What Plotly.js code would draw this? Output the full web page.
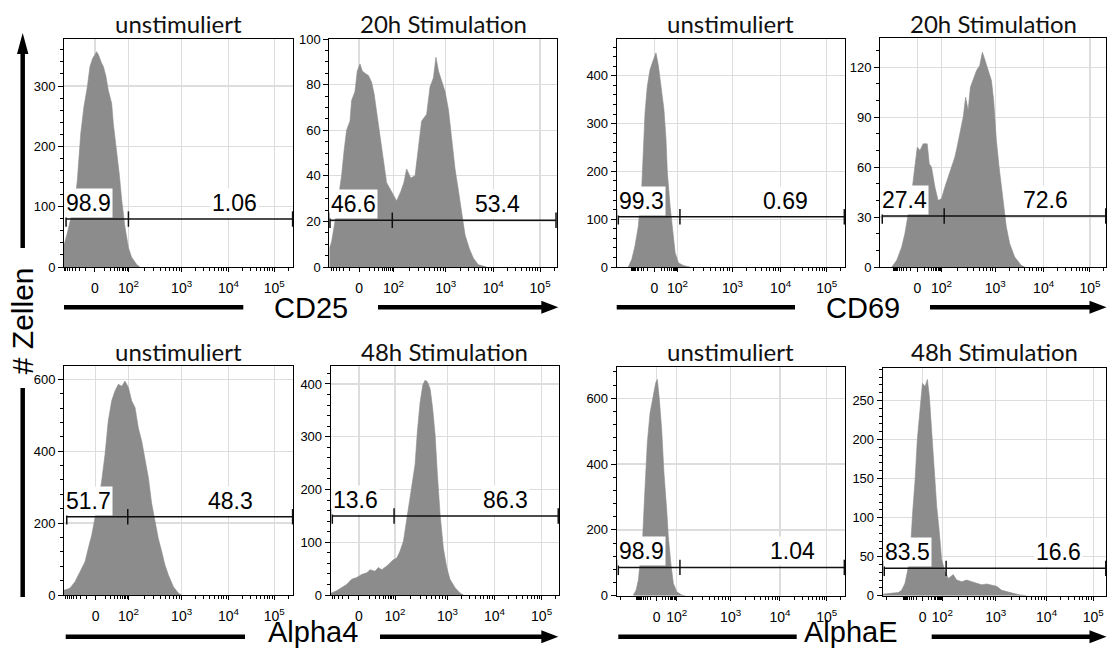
<!DOCTYPE html>
<html><head><meta charset="utf-8">
<script src="https://cdn.plot.ly/plotly-3.0.1.min.js"></script>
<style>html,body{margin:0;padding:0;background:#fff}#chart{width:1107px;height:651px}</style>
</head><body><div id="chart"></div>
<script>
// ---------- DATA (x = display channel on the biexponential scale, 0-1000; y = # cells) ----------
const decadeLabels = ['0', '10<sup>2</sup>', '10<sup>3</sup>', '10<sup>4</sup>', '10<sup>5</sup>'];
const panelTitles = ['unstimuliert', '20h Stimulation', 'unstimuliert', '20h Stimulation',
                     'unstimuliert', '48h Stimulation', 'unstimuliert', '48h Stimulation'];
const markerNames = ['CD25', 'CD69', 'Alpha4', 'AlphaE'];
const yAxisTitle = '# Zellen';

const cd25UnstimChannel = [0,1.5,17,33,48,58,65,73,87,102,113,125,135,142,150,157,164,172,183,193,208,215,230,241,252,266,281,295,317,331];
const cd25UnstimCount   = [38,38,60,88,110,143,177,221,266,299,332,346,352,357,352,343,338,332,316,293,271,238,193,154,110,66,32,16,4,0];

const cd25StimChannel = [0,3,10,25,40,54,65,76,91,98,113,123,135,145,157,172,186,197,211,223,238,252,274,296,314,328,340,358,377,392,406,428,443,458,469,480,494,509,524,538,553,567,582,597,616,633,655,692];
const cd25StimCount   = [8,9,11,20,31,40,51,60,64,73,77,86,89,86,85,84,81,76,66,57,47,37,33,29,33,37,43,39,40,54,64,67,79,83,92,86,82,77,69,57,43,34,24,14,8,4,1,0];

const cd69UnstimChannel = [51,66,80,95,102,110,117,120,124,134,146,161,172,183,197,207,216,222,234,245,256,270,292,321];
const cd69UnstimCount   = [0,16,44,86,127,169,246,280,322,378,413,434,448,420,371,329,267,197,127,72,30,9,3,0];

const cd69StimChannel = [52,74,96,110,125,140,154,165,177,191,209,218,228,243,257,272,287,302,316,331,341,353,368,379,390,400,412,427,441,453,463,478,493,503,515,527,544,559,574,596,625,640];
const cd69StimCount   = [0,4,12,20,32,44,60,72,70,74,74,62,60,48,40,41,48,54,60,66,72,80,90,102,94,108,112,118,121,129,125,118,112,100,76,60,40,24,14,6,1,0];

const alpha4UnstimChannel = [0,4,26,48,70,92,106,121,135,150,164,179,193,208,222,237,252,266,281,295,310,324,339,353,368,382,397,411,426,440,455,477,499,513];
const alpha4UnstimCount   = [14,14,19,37,65,93,130,167,214,260,316,391,484,540,567,586,581,595,577,540,521,465,428,381,326,256,205,158,121,84,56,23,5,0];

const alpha4StimChannel = [0,4,26,48,70,92,114,136,158,173,194,209,224,246,260,275,290,304,319,333,348,360,370,380,392,404,414,424,436,447,458,468,480,494,509,523,545,567,582];
const alpha4StimCount   = [4,4,8,14,20,30,33,39,42,48,45,52,48,55,61,67,70,83,102,140,184,221,247,309,365,398,407,404,391,354,303,228,152,89,52,30,14,4,0];

const alphaEUnstimChannel = [73,85,95,105,114,120,126,134,146,161,171,178,187,197,207,219,226,237,248,263,285,299];
const alphaEUnstimCount   = [2,17,48,109,180,271,362,464,555,616,647,657,596,505,373,261,180,99,38,12,2,0];

const alphaEStimChannel = [0,3,33,70,85,100,115,125,134,145,155,167,178,190,200,209,219,230,242,254,264,279,294,316,331,354,376,399,421,443,466,488,510,533,555,585,615,645];
const alphaEStimCount   = [2,2,3,4,7,16,37,63,106,148,200,242,272,268,277,255,212,165,114,80,46,31,22,27,20,18,20,18,16,14,15,13,12,7,5,3,1,0];

// gate percentages (negative | positive) and gate height (# cells)
const gateNegative = ['98.9','46.6','99.3','27.4','51.7','13.6','98.9','83.5'];
const gatePositive = ['1.06','53.4','0.69','72.6','48.3','86.3','1.04','16.6'];
const gateLevel    = [79.5, 20.5, 105, 30.6, 217.7, 149.6, 86, 35];

// ---------- SCALES / LAYOUT ----------
const W = 1107, H = 651;
const FONT = 'Liberation Sans, Arial, sans-serif';
const TFONT = 'Lato, Noto Sans, sans-serif';
const HIST = '#8c8c8c';

const panels = [
  {ch: cd25UnstimChannel,   n: cd25UnstimCount,   box:[64,293.3,39,267],     ymax:378,  dt:100, mdt:20, ticks:[135,281,513,717,917], gate:[9,281,997], pos:742},
  {ch: cd25StimChannel,     n: cd25StimCount,     box:[329.3,556.7,39,267],  ymax:100,  dt:20,  mdt:5,  ticks:[131,282,512,721,927], gate:[3,277,997], pos:738},
  {ch: cd69UnstimChannel,   n: cd69UnstimCount,   box:[616.7,845,39,267],    ymax:477,  dt:100, mdt:20, ticks:[165,266,507,718,920], gate:[7,277,997], pos:741},
  {ch: cd69StimChannel,     n: cd69StimCount,     box:[880,1106,38,267],     ymax:137.6,dt:30,  mdt:10, ticks:[165,272,510,724,929], gate:[10,284,999], pos:733},
  {ch: alpha4UnstimChannel, n: alpha4UnstimCount, box:[64,293.3,366,595],    ymax:637,  dt:200, mdt:40, ticks:[138,281,513,717,917], gate:[12,278,997], pos:727},
  {ch: alpha4StimChannel,   n: alpha4StimCount,   box:[330.7,558.7,366,595], ymax:434,  dt:100, mdt:20, ticks:[124,282,512,718,925], gate:[7,278,998], pos:768},
  {ch: alphaEUnstimChannel, n: alphaEUnstimCount, box:[616.7,845,366.7,595.7],ymax:696, dt:200, mdt:40, ticks:[175,263,499,715,920], gate:[7,277,997], pos:768},
  {ch: alphaEStimChannel,   n: alphaEStimCount,   box:[882.7,1106,367.7,595.7],ymax:292,dt:50,  mdt:10, ticks:[179,267,506,734,943], gate:[7,284,999], pos:787}
];

function minorTicks(t) {
  const out = [];
  const z = t[0];
  for (let v = 10; v < 100; v += 10) {
    const c = z + (t[1] - z) * Math.log10(1 + v / 10) / Math.log10(11);
    out.push(c, 2 * z - c);
  }
  for (let k = 1; k < 4; k++) {
    for (let m = 2; m < 10; m++) {
      const c = t[k] + Math.log10(m) * (t[k + 1] - t[k]);
      out.push(c, 2 * z - c);
    }
  }
  out.push(t[4] + Math.log10(2) * (t[4] - t[3]));
  out.push(2 * z - t[1]);
  return out.filter(c => c > 1 && c < 999);
}

const px = p => p / W, py = p => 1 - p / H;
const traces = [], annotations = [], shapes = [];
const layout = {
  width: W, height: H, margin: {l:0, r:0, t:0, b:0},
  paper_bgcolor: '#fff', plot_bgcolor: '#fff', showlegend: false,
  font: {family: FONT, color: '#000'}
};

panels.forEach((p, i) => {
  const k = i + 1, sfx = k === 1 ? '' : String(k);
  const xa = 'x' + sfx, ya = 'y' + sfx;
  const [x0, x1, y0, y1] = p.box;
  traces.push({
    type: 'scatter', mode: 'lines', x: p.ch, y: p.n, xaxis: xa, yaxis: ya,
    fill: 'tozeroy', fillcolor: HIST, line: {color: HIST, width: 0.6}, hoverinfo: 'skip'
  });
  traces.push({
    type: 'scatter', mode: 'lines+markers', x: p.gate, y: [gateLevel[i], gateLevel[i], gateLevel[i]],
    xaxis: xa, yaxis: ya, line: {color: '#111', width: 1.5},
    marker: {symbol: 'line-ns-open', size: 11, line: {color: '#111', width: 1.5}},
    cliponaxis: false, hoverinfo: 'skip'
  });
  layout['xaxis' + sfx] = {
    domain: [px(x0), px(x1)], anchor: ya, range: [0, 1000], fixedrange: true,
    tickmode: 'array', tickvals: p.ticks, ticktext: decadeLabels,
    ticks: 'outside', ticklen: 4, tickwidth: 1, tickcolor: '#000', ticklabelstandoff: 4,
    tickfont: {family: FONT, size: 14, color: '#000'},
    showgrid: true, gridcolor: '#dddddd', gridwidth: 1.2, zeroline: false,
    showline: true, linecolor: '#000', linewidth: 1, mirror: true,
    minor: {tickmode: 'array', tickvals: minorTicks(p.ticks), ticks: 'outside', ticklen: 3, tickwidth: 1, tickcolor: '#000', showgrid: false}
  };
  layout['yaxis' + sfx] = {
    domain: [py(y1), py(y0)], anchor: xa, range: [0, p.ymax], fixedrange: true,
    tick0: 0, dtick: p.dt, ticks: 'outside', ticklen: 5, tickwidth: 1, tickcolor: '#000',
    tickfont: {family: FONT, size: 13, color: '#000'},
    showgrid: true, gridcolor: '#dddddd', gridwidth: 1.2, zeroline: false,
    showline: true, linecolor: '#000', linewidth: 1, mirror: true,
    minor: {tick0: 0, dtick: p.mdt, ticks: 'outside', ticklen: 3, tickwidth: 1, tickcolor: '#000', showgrid: false}
  };
  annotations.push({
    xref: xa, yref: ya, x: 0, y: gateLevel[i], xanchor: 'left', yanchor: 'bottom', yshift: 1,
    text: gateNegative[i], showarrow: false, bgcolor: '#fff', borderpad: 1,
    font: {family: FONT, size: 23, color: '#000'}
  });
  annotations.push({
    xref: xa, yref: ya, x: p.pos, y: gateLevel[i], xanchor: 'center', yanchor: 'bottom', yshift: 1,
    text: gatePositive[i], showarrow: false, bgcolor: '#fff', borderpad: 1,
    font: {family: FONT, size: 23, color: '#000'}
  });
  annotations.push({
    xref: 'paper', yref: 'paper', x: px((x0 + x1) / 2), y: py(i < 4 ? 23 : 351.4),
    xanchor: 'center', yanchor: 'middle', text: panelTitles[i], showarrow: false,
    font: {family: TFONT, size: 24, color: '#111'}
  });
});

const labelSpots = [[310.7, 308], [863, 308], [313.3, 632], [851, 632]];
markerNames.forEach((m, j) => {
  annotations.push({
    xref: 'paper', yref: 'paper', x: px(labelSpots[j][0]), y: py(labelSpots[j][1]),
    xanchor: 'center', yanchor: 'middle', text: m, showarrow: false,
    font: {family: FONT, size: 29, color: '#000'}
  });
});
annotations.push({
  xref: 'paper', yref: 'paper', x: px(22.5), y: py(320.7), xanchor: 'center', yanchor: 'middle',
  text: yAxisTitle, textangle: -90, showarrow: false, font: {family: FONT, size: 30, color: '#000'}
});

const LW = 4.5;
function hline(xa, xb, y) {
  shapes.push({type: 'line', xref: 'paper', yref: 'paper', x0: px(xa), x1: px(xb), y0: py(y), y1: py(y), line: {color: '#000', width: LW}});
}
function harrow(xa, tip, y) {
  hline(xa, tip - 14, y);
  shapes.push({type: 'path', xref: 'paper', yref: 'paper', fillcolor: '#000', line: {width: 0},
    path: `M ${px(tip)} ${py(y)} L ${px(tip - 17)} ${py(y - 6.5)} L ${px(tip - 17)} ${py(y + 6.5)} Z`});
}
hline(64, 243.3, 307.3);      harrow(378, 558.3, 307.3);
hline(616.7, 795, 307.3);     harrow(930, 1106.5, 307.3);
hline(65.7, 245, 636.7);      harrow(380, 558.3, 636.7);
hline(618.3, 796.7, 636.7);   harrow(931.7, 1106.5, 636.7);
shapes.push({type: 'line', xref: 'paper', yref: 'paper', x0: px(22.7), x1: px(22.7), y0: py(248), y1: py(50), line: {color: '#000', width: LW}});
shapes.push({type: 'path', xref: 'paper', yref: 'paper', fillcolor: '#000', line: {width: 0},
  path: `M ${px(22.7)} ${py(33)} L ${px(17)} ${py(54)} L ${px(28.4)} ${py(54)} Z`});
shapes.push({type: 'line', xref: 'paper', yref: 'paper', x0: px(22.7), x1: px(22.7), y0: py(388), y1: py(597), line: {color: '#000', width: LW}});

layout.annotations = annotations;
layout.shapes = shapes;
Plotly.newPlot('chart', traces, layout, {staticPlot: true, displayModeBar: false});
</script></body></html>
